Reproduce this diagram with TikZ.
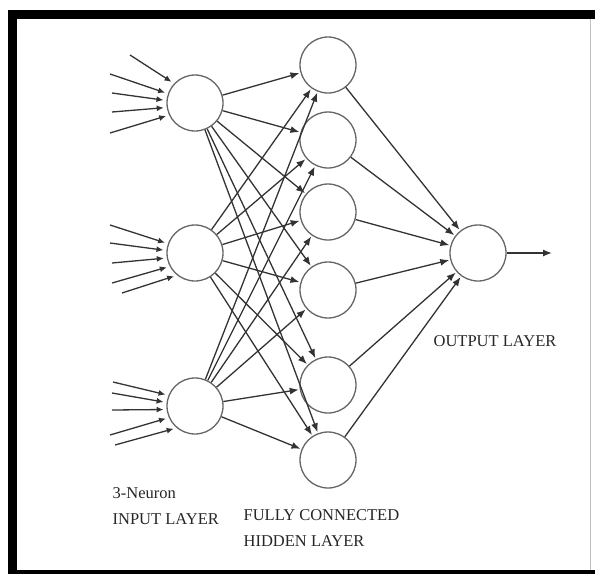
\documentclass[tikz,border=0pt]{standalone}
\usepackage{fontspec}
\setmainfont{Liberation Serif}
\usetikzlibrary{arrows.meta,calc}
\tikzset{
	neuron/.style={draw=black!60, circle, minimum size=56pt, inner sep=0, line width=1.3pt},
	inarrow/.style={->, >={Latex[length=7pt,width=6pt]}, shorten >=3pt},
	lab/.style={font=\fontsize{16.5}{26}\selectfont, align=left, anchor=north west, inner sep=0, text=black!85},
}

\begin{document}
\begin{tikzpicture}[x=1pt,y=-1pt,->,>={Latex[length=9pt,width=7pt]},line width=1.3pt,
				black!80]
				\useasboundingbox (0,0) rectangle (595,574);
				% frame
				\fill[black] (8,10) rectangle (17,574);
				\fill[black] (8,10) rectangle (595,19);
				\fill[black] (8,570) rectangle (595,574);
				\draw[-, black!25, line width=1pt] (590,19) -- (590,570);
				% neurons
				\node[neuron] (in1) at (195,103) {};
				\node[neuron] (in2) at (195,253) {};
				\node[neuron] (in3) at (195,406) {};
				\foreach \y [count=\i] in {65,140,212,290,385,460}
					\node[neuron] (h\i) at (328,\y) {};
				\node[neuron] (out) at (478,253) {};
				\coordinate (outend) at (552,253);
				% inputs
				\foreach \sx/\sy/\a in {-65/-48/137,-85/-29/161,-83/-10/175,-83/9/189,-85/30/205}
					\draw[inarrow] ($(in1)+(\sx,\sy)$) -- (in1.\a);
				\foreach \sx/\sy/\a in {-85/-28/161,-85/-10/175,-83/10/190,-83/30/208,-73/40/231}
					\draw[inarrow] ($(in2)+(\sx,\sy)$) -- (in2.\a);
				\foreach \sx/\sy/\a in {-82/-24/158,-83/-13/173,-83/4/187,-85/29/204,-80/39/230}
					\draw[inarrow] ($(in3)+(\sx,\sy)$) -- (in3.\a);
				% fully connected
				\foreach \i in {1,2,3}
					\foreach \j in {1,...,6}
						\path (in\i) edge[shorten >=1pt] (h\j);
				\foreach \j in {1,...,6}
					\path (h\j) edge[shorten >=1pt] (out);
				\draw (out) -- (outend);
				% labels
				\node[lab] (inlab) at (112,487) {3-Neuron\\INPUT LAYER};
				\node[lab] (hidlab) at (243,509) {FULLY CONNECTED\\HIDDEN LAYER};
				\node[lab] (outlab) at (433,335) {OUTPUT LAYER};
			\end{tikzpicture}
\end{document}
